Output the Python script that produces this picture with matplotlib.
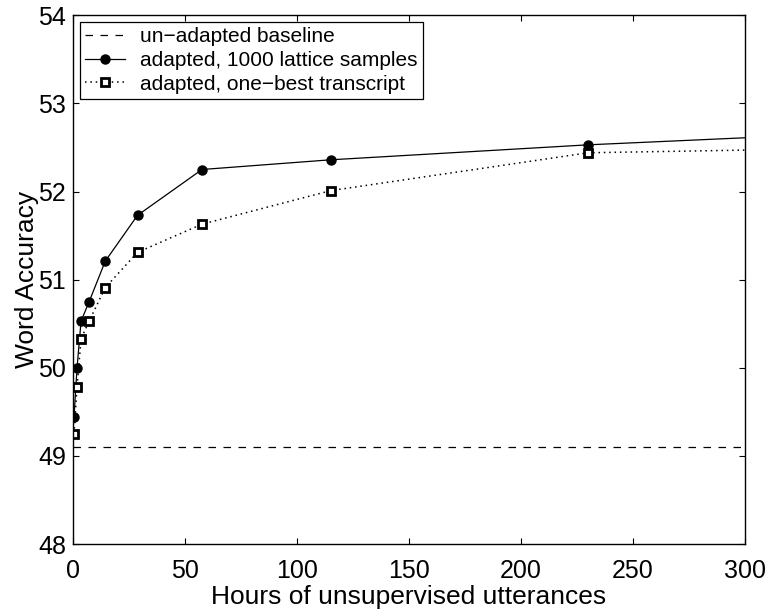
import matplotlib
matplotlib.use("Agg")
import matplotlib.pyplot as plt

plt.rcParams['font.family'] = ['Liberation Sans', 'DejaVu Sans']

hours = [0.45, 1.8, 3.6, 7.2, 14.4, 28.8, 57.6, 115, 230, 300]
lattice = [49.44, 50.00, 50.53, 50.75, 51.21, 51.73, 52.25, 52.36, 52.53, 52.61]
onebest = [49.25, 49.78, 50.33, 50.53, 50.91, 51.31, 51.63, 52.01, 52.44, 52.47]
baseline = 49.1

fig = plt.figure(figsize=(7.7, 6.1), dpi=100)
ax = fig.add_axes([0.0948, 0.108, 0.8727, 0.867])

ax.plot([0, 300], [baseline, baseline], linestyle=(0, (6, 6)), color='black', lw=0.9,
        label='un\u2212adapted baseline')
ax.plot(hours, lattice, '-', color='black', lw=0.9, marker='o', markersize=6.5,
        markevery=list(range(len(hours) - 1)), label='adapted, 1000 lattice samples')
ax.plot(hours, onebest, linestyle=(0, (1, 2.5)), color='black', lw=1.1, marker='s',
        markersize=6, markerfacecolor='white', markeredgecolor='black', markeredgewidth=2,
        markevery=list(range(len(hours) - 1)), label='adapted, one\u2212best transcript')

ax.set_xlim(0, 300)
ax.set_ylim(48, 54)
ax.set_xticks([0, 50, 100, 150, 200, 250, 300])
ax.set_yticks([48, 49, 50, 51, 52, 53, 54])
ax.tick_params(direction='in', top=True, right=True, labelsize=18, length=4)
ax.tick_params(axis='x', pad=11)
ax.tick_params(axis='y', pad=5)
for s in ax.spines.values():
    s.set_linewidth(1.0)
ax.set_xlabel('Hours of unsupervised utterances', fontsize=19, labelpad=1)
ax.set_ylabel('Word Accuracy', fontsize=19, labelpad=-1)

leg = ax.legend(loc='upper left', fontsize=15, fancybox=False, edgecolor='black',
                framealpha=1, borderaxespad=0.33, handlelength=1.9, handletextpad=0.75,
                labelspacing=0.22, borderpad=0.25)
leg.get_frame().set_linewidth(0.9)

fig.savefig('out.png', dpi=100)
